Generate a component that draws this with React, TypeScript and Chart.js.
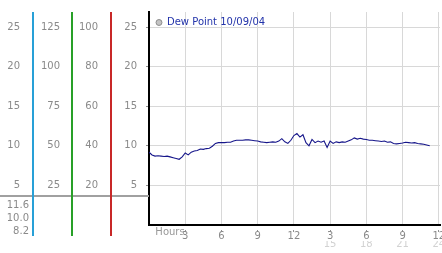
import React, { useEffect, useRef } from "react";
import { Chart, registerables } from "chart.js";

Chart.register(...registerables);

const seriesLabel = "Dew Point 10/09/04";
const hours = [
  0, 0.25, 0.5, 0.75, 1, 1.25, 1.5, 1.75, 2, 2.25, 2.5, 2.75, 3, 3.25, 3.5, 3.75,
  4, 4.25, 4.5, 4.75, 5, 5.25, 5.5, 5.75, 6, 6.25, 6.5, 6.75, 7, 7.25, 7.5, 7.75,
  8, 8.25, 8.5, 8.75, 9, 9.25, 9.5, 9.75, 10, 10.25, 10.5, 10.75, 11, 11.25, 11.5, 11.75,
  12, 12.25, 12.5, 12.75, 13, 13.25, 13.5, 13.75, 14, 14.25, 14.5, 14.75, 15, 15.25, 15.5, 15.75,
  16, 16.25, 16.5, 16.75, 17, 17.25, 17.5, 17.75, 18, 18.25, 18.5, 18.75, 19, 19.25, 19.5, 19.75,
  20, 20.25, 20.5, 20.75, 21, 21.25, 21.5, 21.75, 22, 22.25, 22.5, 22.75, 23, 23.25,
];
const dewPoint = [
  9.2, 8.85, 8.7, 8.75, 8.7, 8.65, 8.7, 8.6, 8.5, 8.4, 8.3, 8.6, 9.1, 8.85, 9.2, 9.35,
  9.4, 9.6, 9.55, 9.65, 9.7, 9.95, 10.3, 10.4, 10.4, 10.4, 10.45, 10.45, 10.6, 10.7, 10.7, 10.7,
  10.75, 10.75, 10.7, 10.65, 10.6, 10.5, 10.45, 10.4, 10.45, 10.5, 10.45, 10.6, 10.9, 10.5, 10.3, 10.7,
  11.3, 11.55, 11.1, 11.4, 10.4, 10.0, 10.8, 10.4, 10.6, 10.45, 10.6, 9.8, 10.6, 10.3, 10.5, 10.4,
  10.5, 10.45, 10.6, 10.75, 11.0, 10.85, 10.95, 10.85, 10.8, 10.7, 10.7, 10.65, 10.6, 10.55, 10.6, 10.45,
  10.5, 10.3, 10.25, 10.3, 10.35, 10.45, 10.4, 10.35, 10.4, 10.3, 10.25, 10.2, 10.1, 10.0,
];

// main axis ticks
const mainTicks = [5, 10, 15, 20, 25];
// extra left axes
const axis1Ticks = [5, 10, 15, 20, 25];
const axis2Ticks = [25, 50, 75, 100, 125];
const axis3Ticks = [20, 40, 60, 80, 100];
const axisMaxes = [26.9, 26.9, 134.5, 107.6]; // main, axis1, axis2, axis3

const xTickValues = [3, 6, 9, 12, 15, 18, 21, 24];
const xTickLabels = ["3", "6", "9", "12", "3", "6", "9", "12"];
const x2TickValues = [15, 18, 21, 24];
const x2TickLabels = ["15", "18", "21", "24"];
const xTitle = "Hours";

const statLabels = ["11.6", "10.0", "8.2"];

const FONT = "'DejaVu Sans', Verdana, sans-serif";
const LABEL_COLOR = "#8a8a8a";

function setTicks(values: number[]) {
  return (scale: any) => {
    scale.ticks = values.map((v) => ({ value: v }));
  };
}

function fixSize(prop: "width" | "height", size: number) {
  return (scale: any) => {
    scale[prop] = size;
    scale.paddingLeft = 0;
    scale.paddingRight = 0;
    scale.paddingTop = 0;
    scale.paddingBottom = 0;
  };
}

const axisLineColors: Record<string, string> = {
  a1: "rgb(40,160,215)",
  a2: "rgb(40,160,40)",
  a3: "rgb(200,40,40)",
};

const decorPlugin = {
  id: "decor",
  afterDraw(chart: any) {
    const { ctx, chartArea, scales } = chart;
    ctx.save();
    ctx.setLineDash([]);
    // gray separator under the left columns
    ctx.fillStyle = "#a0a0a0";
    ctx.fillRect(0, chartArea.bottom - 30, chartArea.left, 2);
    // colored axis lines
    Object.keys(axisLineColors).forEach((id) => {
      const s = scales[id];
      ctx.fillStyle = axisLineColors[id];
      ctx.fillRect(Math.round(s.right) - 1, chartArea.top, 2, chartArea.bottom + 11 - chartArea.top);
    });
    // stat labels
    ctx.fillStyle = LABEL_COLOR;
    ctx.font = `10px ${FONT}`;
    ctx.textAlign = "right";
    ctx.textBaseline = "middle";
    const rx = scales.a1.right - 4;
    statLabels.forEach((t, i) => {
      ctx.fillText(t, rx, chartArea.bottom - 20 + i * 13);
    });
    ctx.restore();
  },
};

export default function App() {
  const ref = useRef<HTMLCanvasElement>(null);

  useEffect(() => {
    document.body.style.margin = "0";
    const canvas = ref.current!;
    const points = hours.map((h, i) => ({ x: h, y: dewPoint[i] }));
    const tickFont = { family: FONT, size: 10 };
    const hiddenGrid = () => ({ display: false, drawTicks: false });

    const chart = new Chart(canvas, {
      type: "line",
      data: {
        datasets: [
          {
            label: seriesLabel,
            data: points,
            borderColor: "#16168a",
            backgroundColor: "#16168a",
            borderWidth: 1.1,
            pointRadius: 0,
            tension: 0,
            xAxisID: "x",
            yAxisID: "y",
          },
        ],
      },
      options: {
        responsive: false,
        animation: false,
        layout: { padding: { top: 12, right: 2, left: 0, bottom: 0 } },
        plugins: {
          tooltip: { enabled: false },
          legend: {
            position: "chartArea" as any,
            align: "start",
            title: {
              display: true,
              text: " ",
              font: { size: 1 },
              padding: { top: 0, bottom: 9.3 },
            },
            labels: {
              usePointStyle: true,
              pointStyle: "circle",
              boxWidth: 6,
              boxHeight: 4.2,
              padding: 7,
              color: "#2233aa",
              font: { family: FONT, size: 10 },
              generateLabels: (c: any) =>
                c.data.datasets.map((d: any, i: number) => ({
                  text: d.label,
                  fillStyle: "#c4c4c4",
                  strokeStyle: "#8c8c8c",
                  lineWidth: 1,
                  pointStyle: "circle",
                  fontColor: "#2233aa",
                  datasetIndex: i,
                  hidden: false,
                })),
            },
          },
        },
        scales: {
          x: {
            type: "linear",
            position: "bottom",
            weight: 0,
            min: 0,
            max: 24.1,
            afterBuildTicks: setTicks(xTickValues),
            afterFit: fixSize("height", 16),
            grid: {
              color: "#d8d8d8",
              tickLength: 7,
              tickColor: "#909090",
              tickBorderDash: [0, 4, 3, 20],
            } as any,
            border: { color: "#000", width: 2 },
            ticks: {
              color: LABEL_COLOR,
              font: tickFont,
              padding: -2,
              maxRotation: 0,
              autoSkip: false,
              callback: (v: any) => {
                const i = xTickValues.indexOf(Number(v));
                return i >= 0 ? xTickLabels[i] : "";
              },
            },
            title: {
              display: true,
              text: "  " + xTitle,
              align: "start",
              color: "#999",
              font: { family: FONT, size: 10 },
              padding: { top: 0, bottom: 3 },
            },
          },
          x2: {
            type: "linear",
            position: "bottom",
            weight: 1,
            min: 0,
            max: 24.1,
            afterBuildTicks: setTicks(x2TickValues),
            afterFit: fixSize("height", 12),
            grid: hiddenGrid(),
            border: { display: false },
            ticks: {
              color: "#d2d2d2",
              font: tickFont,
              padding: -3,
              maxRotation: 0,
              autoSkip: false,
              callback: (v: any) => {
                const i = x2TickValues.indexOf(Number(v));
                return i >= 0 ? x2TickLabels[i] : "";
              },
            },
          },
          y: {
            type: "linear",
            position: "left",
            weight: 0,
            min: 0,
            max: axisMaxes[0],
            afterBuildTicks: setTicks(mainTicks),
            afterFit: fixSize("width", 38),
            grid: {
              color: "#d8d8d8",
              tickLength: 7,
              tickColor: "#909090",
              tickBorderDash: [0, 4, 3, 20],
            } as any,
            border: { color: "#000", width: 2 },
            ticks: { color: LABEL_COLOR, font: tickFont, padding: 5 },
          },
          a3: {
            type: "linear",
            position: "left",
            weight: 1,
            min: 0,
            max: axisMaxes[3],
            afterBuildTicks: setTicks(axis3Ticks),
            afterFit: fixSize("width", 39),
            grid: hiddenGrid(),
            border: { display: false },
            ticks: { color: LABEL_COLOR, font: tickFont, padding: 13 },
          },
          a2: {
            type: "linear",
            position: "left",
            weight: 2,
            min: 0,
            max: axisMaxes[2],
            afterBuildTicks: setTicks(axis2Ticks),
            afterFit: fixSize("width", 39),
            grid: hiddenGrid(),
            border: { display: false },
            ticks: { color: LABEL_COLOR, font: tickFont, padding: 12 },
          },
          a1: {
            type: "linear",
            position: "left",
            weight: 3,
            min: 0,
            max: axisMaxes[1],
            afterBuildTicks: setTicks(axis1Ticks),
            afterFit: fixSize("width", 33),
            grid: hiddenGrid(),
            border: { display: false },
            ticks: { color: LABEL_COLOR, font: tickFont, padding: 13 },
          },
        },
      } as any,
      plugins: [decorPlugin],
    });
    return () => chart.destroy();
  }, []);

  return (
    <div style={{ width: 442, height: 253, background: "#fff" }}>
      <canvas ref={ref} width={442} height={253} style={{ display: "block", width: 442, height: 253 }} />
    </div>
  );
}
